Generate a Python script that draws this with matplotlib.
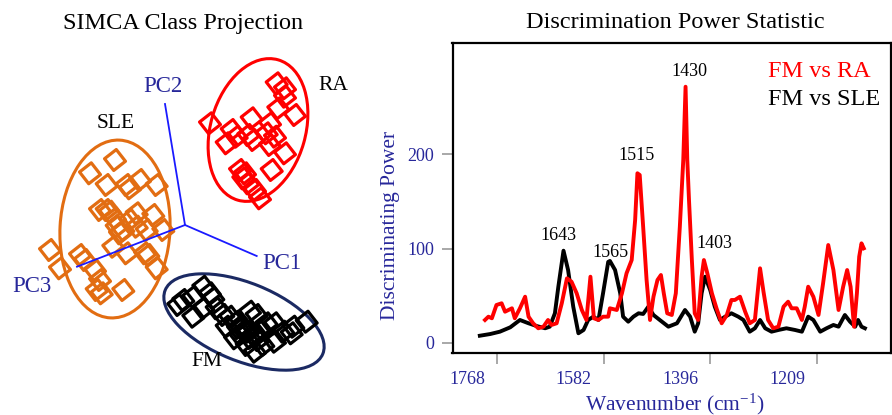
import matplotlib
matplotlib.use('Agg')
import matplotlib.pyplot as plt
from matplotlib.patches import Ellipse
from matplotlib.markers import MarkerStyle
from matplotlib.transforms import Affine2D, ScaledTranslation

plt.rcParams['font.family'] = ['Liberation Serif', 'DejaVu Serif']
plt.rcParams['mathtext.fontset'] = 'custom'
plt.rcParams['mathtext.rm'] = 'Liberation Serif'
plt.rcParams['mathtext.it'] = 'Liberation Serif:italic'

# ---------------- SIMCA projection data (projected scores) ----------------
ra_x = [2.5, 9.17, 10.0, 10.0, 11.0, 9.33, 8.5, 6.67, 4.67, 5.17, 4.17, 6.33, 6.83,
        8.17, 8.5, 10.0, 8.67, 6.0, 5.83, 6.33, 7.5, 7.0, 9.0, 5.5]
ra_y = [10.17, 14.17, 13.67, 12.83, 11.0, 11.67, 10.17, 10.67, 9.5, 8.83, 8.17, 9.0, 8.5,
        9.17, 8.0, 7.17, 5.5, 5.17, 4.67, 4.17, 2.67, 3.5, 8.83, 5.5]

sle_x = [-9.5, -7.0, -7.83, -5.83, -4.5, -5.5, -2.83, -8.5, -7.5, -7.0, -5.5, -3.17, -4.83,
         -6.17, -3.83, -2.17, -7.17, -5.83, -3.67, -13.5, -12.5, -10.5, -10.0, -9.0, -8.5,
         -8.83, -8.33, -6.17, -2.83, -4.0, -6.5, -6.83, -7.83, -4.83]
sle_y = [5.17, 6.5, 4.0, 4.0, 4.5, 3.67, 4.0, 1.5, 1.33, 0.67, 0.5, 1.0, -0.17,
         -0.5, -0.5, -0.5, -2.17, -2.83, -3.0, -2.5, -4.33, -3.0, -3.5, -4.5, -5.5,
         -6.5, -6.83, -6.5, -4.33, -2.83, -0.83, -0.17, 1.5, 1.17]

fm_x = [-0.17, 0.83, 1.83, 2.5, 2.83, 0.83, 1.83, 3.17, 3.83, 4.5, 5.17, 5.67, 6.5, 7.17,
        6.33, 5.5, 7.0, 7.5, 8.17, 9.0, 9.0, 9.83, 10.67, 10.83, 12.17, 7.0, 6.17, 5.0,
        7.83, 4.17, -0.67, 6.0, 6.5, 5.3, 7.3]
fm_y = [-7.5, -7.17, -6.17, -6.83, -7.33, -9.17, -8.33, -8.33, -9.0, -9.17, -9.67, -10.33,
        -8.67, -9.0, -10.67, -11.0, -11.17, -10.67, -9.83, -9.83, -11.67, -10.67, -10.83,
        -10.17, -9.67, -12.67, -12.0, -11.33, -12.0, -10.17, -8.0, -10.5, -11.3, -10.3, -11.5]

# class ellipses: centre x, centre y, width, height, angle
ell_names = ['RA', 'SLE', 'FM']
ell_cx = [7.3, -7.0, 5.9]
ell_cy = [9.5, -0.4, -9.7]
ell_w = [14.6, 17.8, 17.0]
ell_h = [9.5, 11.0, 7.8]
ell_ang = [74, 87, -22]

# principal component axis end points
pc_names = ['PC1', 'PC2', 'PC3']
pc_end_x = [7.17, -2.0, -10.8]
pc_end_y = [-3.1, 12.1, -4.17]

# ---------------- Discrimination power data ----------------
sle_wn = [1798, 1780, 1763, 1745, 1728, 1713, 1699, 1684, 1676, 1667, 1661, 1652, 1644,
          1635, 1626, 1617, 1609, 1600, 1591, 1583, 1574, 1571, 1562, 1553, 1548, 1539,
          1530, 1521, 1513, 1504, 1495, 1484, 1469, 1454, 1440, 1431, 1423, 1417, 1411,
          1405, 1396, 1388, 1379, 1370, 1359, 1347, 1338, 1327, 1318, 1309, 1300, 1289,
          1277, 1263, 1248, 1236, 1225, 1216, 1204, 1193, 1181, 1172, 1161, 1152, 1143,
          1138, 1132, 1126]
sle_dp = [7.7, 9.5, 12.0, 16.6, 24.4, 20.9, 18.0, 15.6, 17.3, 31.5, 59.7, 97.9, 77.4,
          38.5, 10.3, 13.8, 24.4, 27.9, 24.4, 52.7, 86.0, 87.0, 77.4, 52.7, 27.9, 22.6,
          27.9, 31.5, 30.8, 38.5, 29.7, 24.4, 17.3, 20.9, 35.0, 27.9, 12.0, 20.9, 52.7,
          70.3, 56.2, 38.5, 24.4, 27.9, 31.5, 27.9, 24.4, 12.0, 15.6, 24.4, 15.6, 12.0,
          13.8, 15.6, 13.8, 12.0, 27.9, 24.4, 12.0, 15.6, 19.1, 17.3, 29.7, 22.6, 17.3,
          24.4, 17.3, 15.6]

ra_wn = [1789, 1783, 1777, 1769, 1760, 1754, 1748, 1742, 1737, 1728, 1719, 1713, 1705,
         1696, 1687, 1679, 1673, 1664, 1655, 1646, 1638, 1629, 1620, 1612, 1605, 1599,
         1591, 1583, 1574, 1571, 1559, 1550, 1542, 1533, 1527, 1523, 1519, 1513, 1507,
         1501, 1495, 1488, 1482, 1477, 1471, 1463, 1456, 1449, 1443, 1439, 1436, 1433,
         1428, 1423, 1417, 1411, 1407, 1401, 1393, 1385, 1376, 1367, 1359, 1353, 1344,
         1335, 1327, 1318, 1309, 1303, 1295, 1286, 1277, 1268, 1260, 1254, 1245, 1236,
         1231, 1225, 1216, 1207, 1199, 1190, 1181, 1172, 1164, 1157, 1151, 1145, 1140,
         1136, 1132, 1128]
ra_dp = [24.4, 27.9, 26.2, 40.3, 42.1, 33.2, 35.0, 36.8, 26.2, 36.8, 49.1, 27.9, 20.9,
         15.6, 17.3, 24.4, 19.1, 20.9, 42.1, 68.6, 65.0, 52.7, 35.0, 24.4, 70.3, 26.2,
         24.4, 27.9, 27.9, 36.8, 35.0, 52.7, 73.9, 88.0, 130.4, 180.0, 178.2, 123.3, 66.8,
         24.4, 49.1, 66.8, 72.1, 52.7, 31.5, 29.7, 52.7, 123.3, 194.1, 271.8, 194.1, 151.6,
         88.0, 31.5, 24.4, 70.3, 88.0, 73.9, 52.7, 36.8, 20.9, 29.7, 45.6, 45.6, 49.1,
         33.2, 20.9, 24.4, 79.2, 54.4, 24.4, 15.6, 17.3, 38.5, 43.8, 36.8, 36.8, 24.4,
         38.5, 59.7, 49.1, 29.7, 63.3, 103.9, 77.4, 35.0, 59.7, 77.4, 59.7, 17.3, 52.7,
         91.5, 105.7, 100.4]

peak_labels = ['1643', '1565', '1515', '1430', '1403']
peak_lab_x = [1660, 1570, 1525, 1432, 1389]
peak_lab_y = [114, 96, 199, 288, 106]

x_ticks = [1768, 1582, 1396, 1209]
y_ticks = [0, 100, 200]

NAVY = '#27279a'
ORANGE = '#e26d12'
RED = '#ff0000'
FM_NAVY = '#1b2a63'
BLUE = '#1a1aff'

W, H = 892, 415
fig = plt.figure(figsize=(W / 100, H / 100), dpi=100)

# ---------------- Left panel ----------------
axl = fig.add_axes([0, 0, 360 / W, 1])
axl.set_xlim(-18.5, 17.5)
axl.set_ylim(-19.0, 22.5)
axl.axis('off')

mk = MarkerStyle('s', transform=Affine2D().rotate_deg(38))
for (xs, ys, c) in [(ra_x, ra_y, RED), (sle_x, sle_y, ORANGE), (fm_x, fm_y, 'black')]:
    axl.scatter(xs, ys, marker=mk, s=115, facecolors='none', edgecolors=c,
                linewidths=2.3, zorder=3)

ell_cols = [RED, ORANGE, FM_NAVY]
for i in range(3):
    axl.add_patch(Ellipse((ell_cx[i], ell_cy[i]), ell_w[i], ell_h[i], angle=ell_ang[i],
                          fill=False, edgecolor=ell_cols[i], lw=2.2, zorder=2))

for i in range(3):
    axl.plot([0, pc_end_x[i]], [0, pc_end_y[i]], color=BLUE, lw=1.3, zorder=4)

axl.text(9.67, -3.83, 'PC1', color=NAVY, fontsize=16.5, ha='center', va='center')
axl.text(-2.23, 13.9, 'PC2', color=NAVY, fontsize=16.5, ha='center', va='center')
axl.text(-15.27, -6.17, 'PC3', color=NAVY, fontsize=16.5, ha='center', va='center')
axl.text(14.83, 14.0, 'RA', color='black', fontsize=15.5, ha='center', va='center')
axl.text(-6.9, 10.17, 'SLE', color='black', fontsize=15.5, ha='center', va='center')
axl.text(2.23, -13.67, 'FM', color='black', fontsize=15.5, ha='center', va='center')
axl.text(-0.17, 20.17, 'SIMCA Class Projection', color='black', fontsize=17.5,
         ha='center', va='center')

# ---------------- Right panel ----------------
axr = fig.add_axes([452.5 / W, 1 - 352.7 / H, (891 - 452.5) / W, (352.7 - 42.7) / H])
axr.plot(sle_wn, sle_dp, color='black', lw=2.8, zorder=2, solid_joinstyle='round')
axr.plot(ra_wn, ra_dp, color=RED, lw=2.8, zorder=3, solid_joinstyle='round')
axr.set_xlim(1845.7, 1080.5)
axr.set_ylim(-10.3, 318.5)
for s in axr.spines.values():
    s.set_linewidth(1.6)
    s.set_color('black')

axr.set_yticks(y_ticks)
axr.set_yticklabels([str(v) for v in y_ticks])
axr.set_xticks(x_ticks)
axr.set_xticklabels([str(v) for v in x_ticks])
axr.tick_params(axis='both', direction='out', length=8, width=1.4, color='#a8a8a8',
                labelcolor=NAVY, labelsize=13, pad=5)
offset = ScaledTranslation(-30 / 100, 0, fig.dpi_scale_trans)
for lab in axr.get_xticklabels():
    lab.set_transform(lab.get_transform() + offset)

for t, x, y in zip(peak_labels, peak_lab_x, peak_lab_y):
    axr.text(x, y, t, fontsize=13, ha='center', va='center', color='black')

fig.text(768 / W, 1 - 76.7 / H, 'FM vs RA', color=RED, fontsize=17.5, ha='left',
         va='baseline')
fig.text(768 / W, 1 - 105 / H, 'FM vs SLE', color='black', fontsize=17.5, ha='left',
         va='baseline')

fig.text(675 / W, 1 - 22 / H, 'Discrimination Power Statistic', color='black',
         fontsize=17.5, ha='center', va='center')
fig.text(390 / W, 1 - 225 / H, 'Discriminating Power', color=NAVY, fontsize=15.5,
         rotation=90, ha='center', va='center')
fig.text(675 / W, 1 - 404 / H, 'Wavenumber (cm$^{-1}$)', color=NAVY, fontsize=15.5,
         ha='center', va='center')

fig.savefig('out.png', dpi=100)
